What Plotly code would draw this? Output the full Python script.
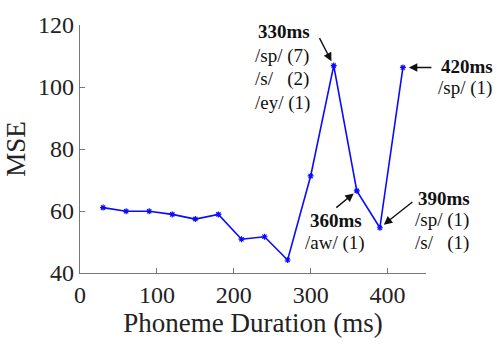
import plotly.graph_objects as go

durations = [30, 60, 90, 120, 150, 180, 210, 240, 270, 300, 330, 360, 390, 420]
mse = [61.1, 59.9, 59.9, 58.9, 57.4, 58.9, 50.9, 51.7, 44.2, 71.3, 106.9, 66.5, 54.6, 106.3]

x_ticks = [0, 100, 200, 300, 400]
y_ticks = [40, 60, 80, 100, 120]

SERIF = "Liberation Serif, Times New Roman, serif"

fig = go.Figure()
fig.add_trace(go.Scatter(
    x=durations, y=mse, mode="lines+markers",
    line=dict(color="#0a0aff", width=1.6),
    marker=dict(symbol="asterisk-open", size=5, color="#0a0aff", line=dict(width=1.2, color="#0a0aff")),
    showlegend=False,
))

anns = []
def txt(x, y, s, bold=False, size=19):
    anns.append(dict(x=x, y=y, xref="paper", yref="paper", text=("<b>%s</b>" % s) if bold else s,
                     showarrow=False, xanchor="left", yanchor="middle",
                     font=dict(family=SERIF, size=size, color="#111")))

def arrow(i, ax, ay, standoff):
    anns.append(dict(x=durations[i], y=mse[i], xref="x", yref="y", text="", showarrow=True,
                     ax=ax, ay=ay, arrowhead=2, arrowsize=1.2, arrowwidth=1.4,
                     arrowcolor="#111", standoff=standoff))

# 330ms
txt(0.510, 0.973, "330ms", bold=True)
txt(0.500, 0.876, "/sp/ (7)")
txt(0.500, 0.783, "/s/ &nbsp;&nbsp;(2)")
txt(0.500, 0.686, "/ey/ (1)")
arrow(10, -15, -29, 5)
# 420ms
txt(1.037, 0.833, "420ms", bold=True)
txt(1.030, 0.744, "/sp/ (1)")
arrow(13, 30, 0, 6)
# 360ms
txt(0.660, 0.213, "360ms", bold=True)
txt(0.645, 0.120, "/aw/ (1)")
arrow(11, -22, 18, 4)
# 390ms
txt(0.972, 0.302, "390ms", bold=True)
txt(0.963, 0.213, "/sp/ (1)")
txt(0.963, 0.120, "/s/ &nbsp;&nbsp;(1)")
arrow(12, 34, -27, 5)

fig.update_layout(
    width=497, height=348,
    margin=dict(l=80, r=71, t=15, b=75),
    paper_bgcolor="white", plot_bgcolor="white",
    annotations=anns,
    font=dict(family=SERIF, color="#222"),
)
fig.update_xaxes(range=[0, 450], tickvals=x_ticks, ticks="inside", ticklen=5,
                 tickcolor="#777", showline=True, linecolor="#777", linewidth=1.2,
                 showgrid=False, zeroline=False, tickfont=dict(family=SERIF, size=24, color="#222"),
                 title=dict(text="Phoneme Duration (ms)", font=dict(family=SERIF, size=27, color="#222"), standoff=2))
fig.update_yaxes(range=[40, 120], tickvals=y_ticks, ticks="inside", ticklen=5,
                 tickcolor="#777", showline=True, linecolor="#777", linewidth=1.2,
                 showgrid=False, zeroline=False, tickfont=dict(family=SERIF, size=24, color="#222"),
                 title=dict(text="MSE", font=dict(family=SERIF, size=27, color="#222"), standoff=4))

fig.write_html("out.html")
